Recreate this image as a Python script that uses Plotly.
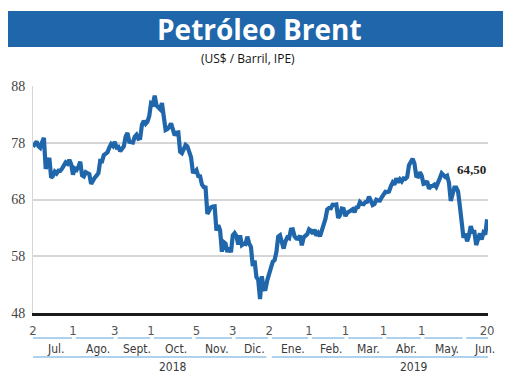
import pandas as pd
import plotly.graph_objects as go

# ---------------- data (Brent, US$/barrel, daily closes) ----------------
jul_2018 = [77.30, 77.76, 78.24, 77.39, 77.11, 78.07, 78.86, 73.40, 74.45, 75.33, 71.84,
            72.16, 72.90, 72.58, 73.07, 73.06, 73.44, 73.93, 74.54, 74.29, 74.97, 74.25]
aug_2018 = [72.39, 73.45, 73.21, 73.75, 74.65, 72.28, 72.07, 72.81, 72.61, 72.46, 70.76,
            71.43, 71.83, 72.21, 72.63, 74.78, 74.73, 75.82, 76.21, 76.31, 77.14, 77.77, 77.42]
sep_2018 = [78.15, 77.17, 77.27, 76.50, 76.83, 77.37, 79.06, 79.74, 78.18, 78.09, 78.05,
            79.03, 79.40, 78.70, 78.80, 81.20, 81.87, 81.34, 81.72, 82.72]
oct_2018 = [84.98, 84.80, 86.29, 84.58, 84.16, 83.91, 85.00, 83.09, 80.26, 80.43, 80.78,
            81.41, 80.05, 79.29, 79.78, 79.83, 76.44, 76.17, 76.89, 77.62, 77.34, 76.31, 75.47]
nov_2018 = [72.89, 72.83, 73.17, 72.13, 72.07, 70.65, 70.18, 70.12, 65.47, 66.12, 66.62,
            66.76, 66.79, 62.53, 63.48, 62.60, 58.80, 60.48, 60.21, 58.76, 59.51, 58.71]
dec_2018 = [61.69, 62.08, 61.56, 60.06, 61.67, 59.97, 60.20, 60.15, 61.45, 60.28, 59.61,
            56.26, 57.24, 54.35, 53.82, 50.47, 54.47, 52.16, 52.20, 53.80]
jan_2019 = [54.91, 55.95, 57.06, 57.33, 58.72, 61.44, 61.68, 60.48, 59.35, 60.64, 61.32,
            61.18, 62.70, 62.74, 61.50, 61.14, 61.09, 61.64, 59.93, 61.32, 61.65, 61.89]
feb_2019 = [62.75, 62.51, 61.98, 62.69, 61.63, 62.10, 61.51, 62.42, 63.61, 64.57, 66.25,
            66.50, 66.45, 67.08, 67.07, 67.12, 64.76, 65.21, 66.39, 66.31]
mar_2019 = [65.07, 65.67, 65.86, 65.99, 66.30, 65.74, 66.58, 66.67, 67.55, 67.23, 67.16,
            67.54, 67.61, 68.50, 67.86, 67.03, 67.21, 67.97, 67.83, 67.82, 68.39]
apr_2019 = [69.01, 69.37, 69.31, 69.40, 70.34, 70.99, 70.61, 71.73, 71.02, 71.55, 71.18,
            71.72, 71.62, 71.97, 74.04, 74.51, 75.20, 74.35, 72.15, 72.04, 72.80]
may_2019 = [72.18, 70.75, 70.85, 71.24, 69.88, 70.37, 70.39, 70.62, 70.23, 71.24, 71.77,
            72.62, 72.21, 71.97, 72.18, 70.99, 67.76, 68.69, 70.11, 70.11, 69.45, 66.87, 64.49]
jun_2019 = [61.28, 61.97, 60.63, 61.67, 63.29, 62.29, 62.29, 59.97, 61.31, 62.01, 60.94,
            62.14, 61.82, 64.50]

month_names = ["Jul.", "Ago.", "Sept.", "Oct.", "Nov.", "Dic.",
               "Ene.", "Feb.", "Mar.", "Abr.", "May.", "Jun."]
holidays = ["2018-12-25", "2019-01-01", "2019-04-19"]
tick_dates = ["2018-07-02", "2018-08-01", "2018-09-03", "2018-10-01", "2018-11-05",
              "2018-12-03", "2019-01-02", "2019-02-01", "2019-03-01", "2019-04-01",
              "2019-05-01", "2019-06-20"]
y_ticks = [48, 58, 68, 78, 88]
last_label = "64,50"

# ---------------- build series ----------------
monthly = [jul_2018, aug_2018, sep_2018, oct_2018, nov_2018, dec_2018,
           jan_2019, feb_2019, mar_2019, apr_2019, may_2019, jun_2019]
prices = [v for m in monthly for v in m]
dates = pd.bdate_range("2018-07-02", "2019-06-20")
dates = dates[~dates.isin(pd.to_datetime(holidays))]
n = min(len(dates), len(prices))
dates = dates[:n]
prices = prices[:n]
idx = list(range(n))
date_pos = {d.strftime("%Y-%m-%d"): i for i, d in enumerate(dates)}
tick_vals = [date_pos[d] for d in tick_dates]
tick_text = [str(pd.Timestamp(d).day) for d in tick_dates]

BLUE = "#1f66ab"
LIGHT_BLUE = "#93c3e8"
TXT = "#3a3a3a"
NARROW = "Liberation Sans Narrow, DejaVu Sans Condensed, Arial Narrow, Roboto, sans-serif"
SERIF = "Liberation Serif, Times New Roman, serif"

fig = go.Figure()
fig.add_trace(go.Scatter(
    x=idx, y=prices, mode="lines",
    line=dict(color=BLUE, width=4.2),
    hoverinfo="skip", showlegend=False,
))

XMAX = n - 0.5
shapes = []
annotations = []

# month segments and labels
starts = []
pos = 0
for m in monthly:
    starts.append(pos)
    pos += len(m)
for k, name in enumerate(month_names):
    s = starts[k]
    e = starts[k] + len(monthly[k]) - 1
    x0 = 0 if k == 0 else s + 1.5
    x1 = e + 0.5 if k < len(month_names) - 1 else e + 5
    shapes.append(dict(type="line", xref="x", yref="paper", x0=x0, x1=x1,
                       y0=-0.110, y1=-0.110, line=dict(color=LIGHT_BLUE, width=1.6)))
    annotations.append(dict(xref="x", yref="paper", x=(x0 + x1) / 2, y=-0.158,
                            text=name, showarrow=False, xshift=3,
                            xanchor="center", yanchor="middle",
                            font=dict(family=NARROW, size=12, color=TXT)))

# year segments and labels
split = starts[6]
shapes.append(dict(type="line", xref="x", yref="paper", x0=0, x1=split - 0.5 - 1,
                   y0=-0.194, y1=-0.194, line=dict(color=LIGHT_BLUE, width=1.6)))
shapes.append(dict(type="line", xref="x", yref="paper", x0=split + 1.5, x1=n + 4,
                   y0=-0.194, y1=-0.194, line=dict(color=LIGHT_BLUE, width=1.6)))
annotations.append(dict(xref="x", yref="paper", x=starts[3] + 12, y=-0.238, text="2018",
                        xanchor="center", yanchor="middle",
                        showarrow=False, font=dict(family=NARROW, size=12, color=TXT)))
annotations.append(dict(xref="x", yref="paper", x=starts[9] + 17, y=-0.238, text="2019",
                        xanchor="center", yanchor="middle",
                        showarrow=False, font=dict(family=NARROW, size=12, color=TXT)))

# title banner
shapes.append(dict(type="rect", xref="paper", yref="paper", x0=-0.0571, x1=1.033,
                   y0=1.172, y1=1.330, fillcolor="#1f66ab", line=dict(width=0), layer="below"))
annotations.append(dict(xref="paper", yref="paper", x=0.497, y=1.251,
                        text="<b>Petróleo Brent</b>", xanchor="center", yanchor="middle",
                        showarrow=False,
                        font=dict(family="Open Sans, Lato, sans-serif", size=28, color="white")))
annotations.append(dict(xref="paper", yref="paper", x=0.4725, y=1.123,
                        text="(US$ / Barril, IPE)", xanchor="center", yanchor="middle",
                        showarrow=False,
                        font=dict(family="Open Sans, Lato, sans-serif", size=12, color="#111")))

# last value label
annotations.append(dict(xref="x", yref="y", x=idx[-1] + 0.5, y=73.3,
                        text="<b>" + last_label + "</b>",
                        xanchor="right", yanchor="middle", showarrow=False,
                        font=dict(family=SERIF, size=13, color="#222")))

# the page body adds an 8px offset, so the figure is 8px smaller and margins shifted
fig.update_layout(
    width=512, height=382, autosize=False,
    margin=dict(l=25, r=32, t=78, b=77, autoexpand=False),
    plot_bgcolor="white", paper_bgcolor="white",
    shapes=shapes, annotations=annotations,
    xaxis=dict(range=[0, XMAX], showgrid=False, zeroline=False, automargin=False,
               showline=True, linecolor="#1a1a1a", linewidth=2.5,
               tickvals=tick_vals, ticktext=tick_text,
               ticks="outside", ticklen=4, tickcolor="rgba(0,0,0,0)",
               tickfont=dict(family=NARROW, size=13, color="#555")),
    yaxis=dict(range=[48, 88], tickvals=y_ticks, showgrid=True, automargin=False,
               gridcolor="#d6d6d6", gridwidth=1.5, zeroline=False,
               showline=True, linecolor="#d6d6d6", linewidth=1,
               ticks="outside", ticklen=4, tickcolor="rgba(0,0,0,0)",
               tickfont=dict(family=SERIF, size=14, color="#444")),
)

fig.write_html("out.html")
